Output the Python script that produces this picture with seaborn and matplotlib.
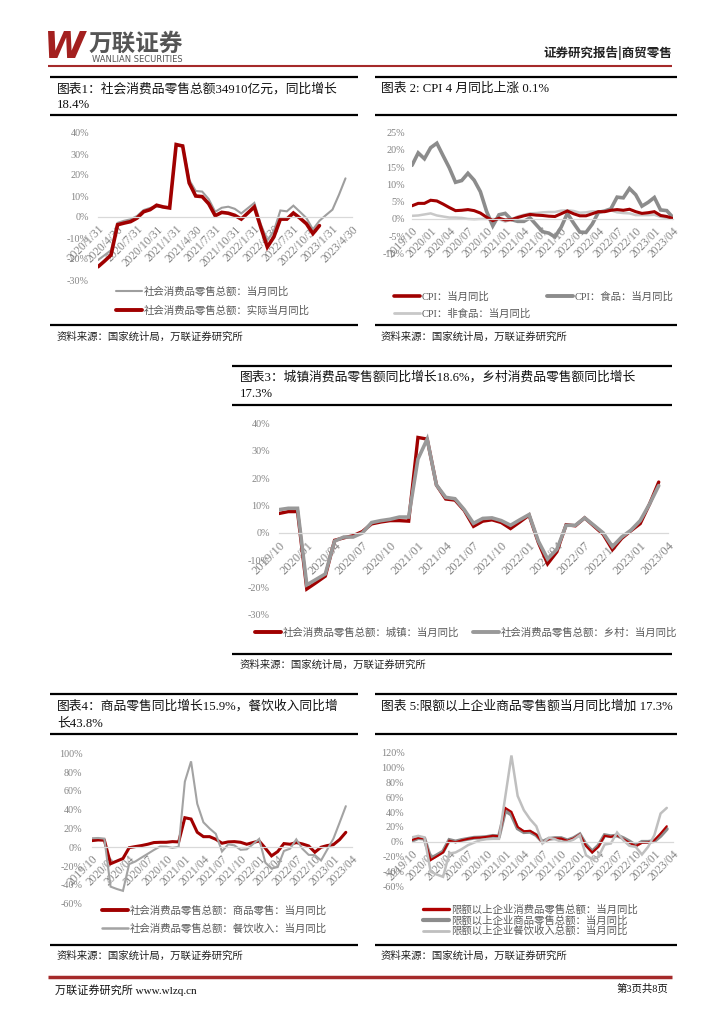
import numpy as np
import pandas as pd
import matplotlib
matplotlib.use("Agg")
import matplotlib.pyplot as plt
from matplotlib.lines import Line2D
import seaborn as sns

# ---------------- data ----------------
# Chart 1: total retail sales, monthly YoY (%), x index 0 = 2020/1/31
c1_labels = ["2020/1/31", "2020/4/30", "2020/7/31", "2020/10/31", "2021/1/31", "2021/4/30",
             "2021/7/31", "2021/10/31", "2022/1/31", "2022/4/30", "2022/7/31", "2022/10/31",
             "2023/1/31", "2023/4/30"]
c1_nominal = [-20.5, -18.2, -15.8, -2.8, -1.8, -1.1, 0.5, 3.3, 4.3, 5.0, 4.6, 4.6,
              33.8, 34.2, 17.7, 12.4, 12.1, 8.5, 2.5, 4.4, 4.9, 3.9, 1.7, 4.2,
              6.7, -3.5, -11.1, -6.7, 3.1, 2.7, 5.4, 2.5, -0.5, -5.9, -1.8, 0.9,
              3.5, 10.6, 18.4]
c1_real = [-23.7, -21.0, -18.1, -3.7, -2.9, -2.2, -0.5, 2.5, 3.5, 5.6, 4.8, 4.3,
           34.5, 33.8, 16.2, 10.0, 9.7, 6.3, 0.6, 2.2, 1.8, 0.8, -1.0, 1.9,
           4.8, -5.0, -14.3, -9.5, -1.0, -1.0, 1.9, -0.5, -3.2, -7.9, -4.1]

# Month labels for charts 2-5, x index 0 = 2019/10
m_labels = ["2019/10", "2020/01", "2020/04", "2020/07", "2020/10", "2021/01", "2021/04",
            "2021/07", "2021/10", "2022/01", "2022/04", "2022/07", "2022/10", "2023/01",
            "2023/04"]

# Chart 2: CPI YoY (%)
cpi_total = [3.8, 4.5, 4.5, 5.4, 5.2, 4.3, 3.3, 2.4, 2.5, 2.7, 2.4, 1.7, 0.5, -0.5, 0.2,
             -0.3, -0.2, 0.4, 0.9, 1.3, 1.1, 1.0, 0.8, 0.7, 1.5, 2.3, 1.5,
             0.9, 0.9, 1.5, 2.1, 2.1, 2.5, 2.7, 2.5, 2.8, 2.1, 1.6, 1.8,
             2.1, 1.0, 0.7, 0.1]
cpi_food = [15.5, 19.1, 17.4, 20.6, 21.9, 18.3, 14.8, 10.6, 11.1, 13.2, 11.2, 7.9, 2.2, -2.0, 1.2,
            1.6, -0.2, -0.7, -0.7, 0.3, -1.7, -3.7, -4.1, -5.2, -2.4, 1.6, -1.2,
            -3.8, -3.9, -1.5, 1.9, 2.3, 2.9, 6.3, 6.1, 8.8, 7.0, 3.7, 4.8,
            6.2, 2.6, 2.4, 0.4]
cpi_nonfood = [0.9, 1.0, 1.3, 1.6, 1.0, 0.7, 0.4, 0.4, 0.3, 0.0, -0.1, 0.0, 0.0, 0.0, -0.1,
               -0.8, -0.1, 0.7, 1.2, 1.6, 1.7, 1.9, 2.0, 2.0, 2.4, 2.5, 2.3,
               1.8, 1.9, 2.2, 2.2, 2.1, 2.5, 1.9, 1.7, 1.6, 1.1, 1.1, 1.1,
               1.2, 0.6, 0.3, 0.1]

# Chart 3: urban / rural retail YoY (%)
c3_urban = [7.1, 7.8, 7.8, -20.5, -18.2, -15.8, -2.7, -1.8, -1.0, 0.5, 3.3, 4.0, 4.5, 4.5, 4.3,
            34.9, 34.3, 17.5, 12.4, 12.0, 8.2, 2.4, 4.3, 4.8, 3.8, 1.6, 4.0,
            6.5, -3.5, -11.3, -6.9, 3.0, 2.6, 5.5, 2.5, -0.5, -6.1, -2.0, 0.8,
            3.4, 10.5, 18.6]
c3_rural = [8.5, 9.0, 9.0, -19.0, -17.0, -15.0, -3.0, -1.5, -1.5, 0.0, 3.8, 4.5, 5.0, 5.8, 5.8,
            27.0, 34.3, 17.5, 13.0, 12.5, 8.5, 3.5, 5.3, 5.5, 4.5, 2.8, 4.8,
            6.7, -3.0, -9.5, -6.0, 2.8, 2.8, 5.5, 2.8, 0.0, -5.0, -1.5, 1.0,
            4.5, 10.5, 17.3]

# Chart 4: commodity retail / catering YoY (%)
c4_goods = [7.1, 7.8, 7.5, -17.6, -14.8, -12.0, -0.5, 0.7, 1.8, 3.2, 5.0, 5.3, 5.3, 6.0, 5.7,
            31.5, 30.1, 16.0, 11.3, 11.3, 8.5, 4.3, 5.7, 6.0, 5.3, 3.2, 5.0,
            6.7, -1.0, -9.2, -4.6, 3.9, 3.2, 5.0, 3.5, 1.4, -5.3, 0.0, 1.8,
            2.8, 8.2, 15.9]
c4_catering = [9.6, 9.9, 9.2, -42.0, -44.5, -46.5, -18.0, -15.2, -11.0, -7.0, -2.9, 0.8, 0.6, -0.6, 0.5,
               70.0, 91.6, 46.4, 26.6, 20.0, 14.3, -4.5, 3.1, 2.0, -2.7, -2.2, 3.3,
               8.9, -16.4, -22.7, -21.1, -4.0, -1.5, 8.4, -1.7, -8.1, -8.4, -14.1, -2.5,
               9.2, 26.3, 43.8]

# Chart 5: above-quota enterprises YoY (%)
c5_total = [2.5, 5.4, 4.5, -24.6, -19.5, -14.3, 1.5, -0.5, 2.0, 4.0, 5.4, 5.8, 6.7, 8.1, 7.6,
            45.6, 40.3, 20.0, 14.3, 14.8, 9.8, -0.9, 3.6, 4.5, 4.5, 1.3, 4.5,
            9.8, -5.4, -14.3, -6.7, 8.1, 6.7, 9.0, 3.6, -1.3, -5.8, -1.3, -0.9,
            2.2, 11.2, 21.0]
c5_goods = [1.5, 5.0, 4.2, -22.5, -18.0, -13.0, 2.5, 0.5, 2.5, 4.0, 5.5, 5.8, 6.5, 8.0, 7.5,
            42.0, 36.5, 18.0, 13.0, 13.5, 9.0, 0.0, 4.0, 5.0, 5.0, 2.0, 5.0,
            10.0, -4.0, -13.0, -5.0, 9.0, 7.5, 8.5, 5.0, 0.5, -5.0, 0.0, 0.0,
            1.0, 8.0, 17.3]
c5_catering = [6.0, 8.0, 6.0, -40.0, -44.0, -47.0, -15.7, -14.3, -9.8, -4.5, -1.0, 2.2, 3.6, 4.0, 4.0,
               60.0, 116.0, 61.7, 42.5, 30.4, 21.0, -2.2, 5.4, 3.6, 0.0, 0.0, 3.0,
               9.0, -17.9, -23.3, -20.0, -3.6, -2.2, 12.5, 2.2, -5.4, -6.7, -17.0, -6.7,
               9.0, 38.0, 45.6]

SRC = "资料来源：国家统计局，万联证券研究所"

# ---------------- style ----------------
sns.set_theme(style="white")
FAM = ["Liberation Serif", "Noto Sans CJK SC", "DejaVu Sans"]
plt.rcParams["font.family"] = FAM
plt.rcParams["axes.unicode_minus"] = False

RED = "#A00000"
TICK_C = "#858585"
LEG_C = "#595959"

W, H = 724, 1024
fig = plt.figure(figsize=(W / 100, H / 100), dpi=100)
fig.patch.set_facecolor("white")


def rect(l, t, r, b):
    return [l / W, 1 - b / H, (r - l) / W, (b - t) / H]


def hline(x0, x1, y, color="black", lw=1.6):
    fig.add_artist(Line2D([x0 / W, x1 / W], [1 - y / H, 1 - y / H],
                          transform=fig.transFigure, color=color, lw=lw,
                          solid_capstyle="butt"))


def ftext(x, y, s, size, **kw):
    kw.setdefault("va", "center")
    fig.text(x / W, 1 - y / H, s, fontsize=size, **kw)


def chart(box, series, xlabels, nmonths, ylim, ystep, ypad, xsize=8.3):
    ax = fig.add_axes(rect(*box))
    ax.set_facecolor("none")
    for vals, color, lw, label in series:
        df = pd.DataFrame({"x": np.arange(len(vals)), "y": vals})
        sns.lineplot(data=df, x="x", y="y", ax=ax, color=color, linewidth=lw,
                     label=label, legend=False, solid_joinstyle="miter")
    ax.set_xlim(0, nmonths)
    ax.set_ylim(*ylim)
    ax.set_xlabel("")
    ax.set_ylabel("")
    for s in ["top", "right", "left"]:
        ax.spines[s].set_visible(False)
    ax.spines["bottom"].set_position(("data", 0))
    ax.spines["bottom"].set_color("#D9D9D9")
    ax.spines["bottom"].set_linewidth(0.9)
    ax.set_xticks(np.arange(0, nmonths + 1, 3))
    ax.set_xticklabels(xlabels)
    yt = np.arange(ylim[0], ylim[1] + 0.001, ystep)
    ax.set_yticks(yt)
    ax.set_yticklabels([f"{int(round(v))}%" for v in yt])
    ax.tick_params(axis="y", length=0, pad=ypad, labelcolor=TICK_C, labelsize=7.3)
    ax.tick_params(axis="x", length=3, width=0.8, color="#D9D9D9", pad=1.5,
                   labelcolor=TICK_C, labelsize=xsize, direction="out")
    for lbl in ax.get_xticklabels():
        lbl.set_rotation(45)
        lbl.set_ha("right")
        lbl.set_va("top")
        lbl.set_rotation_mode("anchor")
    ax.grid(False)
    return ax


def legend_row(items, x, y):
    handles = [Line2D([], [], color=c, lw=lw) for c, lw, _ in items]
    labels = [t for _, _, t in items]
    fig.legend(handles, labels, loc="center left",
               bbox_to_anchor=(x / W, 1 - y / H), bbox_transform=fig.transFigure,
               frameon=False, borderpad=0, borderaxespad=0, handlelength=2.5,
               handletextpad=0.15, fontsize=7.5, labelcolor=LEG_C)


# ---------------- header ----------------
ftext(65, 48, "W", 27, ha="center", color="#A3201F", weight="bold", style="italic",
      family="DejaVu Sans")
ftext(89, 44, "万联证券", 17, ha="left", color="#555555", weight="bold",
      family="Noto Sans CJK SC")
ftext(92, 59.5, "WANLIAN SECURITIES", 6, ha="left", color="#555555", family="DejaVu Sans")
ftext(672, 53, "证券研究报告|商贸零售", 9, ha="right", color="#222222", weight="bold",
      family="Noto Sans CJK SC")
hline(48, 672, 66, color="#A52A2A", lw=1.5)

# ---------------- panel frames & titles ----------------
TS = 9.2
# Panel 1
hline(50, 358, 77)
hline(50, 358, 115)
hline(50, 358, 325)
ftext(57, 89, "图表1：社会消费品零售总额34910亿元，同比增长", TS, color="#111111")
ftext(57, 105, "18.4%", TS, color="#111111")
ftext(57, 337, SRC, 7.5, color="#222222")
# Panel 2
hline(375, 677, 77)
hline(375, 677, 115)
hline(375, 677, 325)
ftext(381, 89, "图表 2: CPI 4 月同比上涨 0.1%", TS, color="#111111")
ftext(381, 337, SRC, 7.5, color="#222222")
# Panel 3
hline(232, 672, 366)
hline(232, 672, 405)
hline(232, 672, 654)
ftext(240, 377, "图表3：城镇消费品零售额同比增长18.6%，乡村消费品零售额同比增长", TS, color="#111111")
ftext(240, 394, "17.3%", TS, color="#111111")
ftext(240, 665, SRC, 7.5, color="#222222")
# Panel 4
hline(50, 358, 694)
hline(50, 358, 734)
hline(50, 358, 945)
ftext(57, 706, "图表4：商品零售同比增长15.9%，餐饮收入同比增", TS, color="#111111")
ftext(57, 723, "长43.8%", TS, color="#111111")
ftext(57, 956, SRC, 7.5, color="#222222")
# Panel 5
hline(375, 677, 694)
hline(375, 677, 734)
hline(375, 677, 945)
ftext(381, 706, "图表 5:限额以上企业商品零售额当月同比增加 17.3%", TS, color="#111111")
ftext(381, 956, SRC, 7.5, color="#222222")

# ---------------- charts ----------------
# Chart 1
g1 = "#9E9E9E"
chart((98, 133, 352, 280),
      [(c1_nominal, g1, 1.5, "社会消费品零售总额：当月同比"),
       (c1_real, RED, 2.6, "社会消费品零售总额：实际当月同比")],
      c1_labels, 39, (-30, 40), 10, 6.5, xsize=8.3)
legend_row([(g1, 1.5, "社会消费品零售总额：当月同比")], 116, 291.5)
legend_row([(RED, 2.8, "社会消费品零售总额：实际当月同比")], 116, 310)

# Chart 2
gf, gn = "#8C8C8C", "#C8C8C8"
chart((412, 132.5, 673, 253.5),
      [(cpi_nonfood, gn, 1.8, "CPI：非食品：当月同比"),
       (cpi_food, gf, 2.6, "CPI：食品：当月同比"),
       (cpi_total, RED, 2.2, "CPI：当月同比")],
      m_labels, 42, (-10, 25), 5, 5)
legend_row([(RED, 2.6, "CPI：当月同比")], 394, 297)
legend_row([(gf, 2.8, "CPI：食品：当月同比")], 547, 297)
legend_row([(gn, 2.0, "CPI：非食品：当月同比")], 394, 314)

# Chart 3
g3 = "#999999"
chart((279, 423.5, 668, 615),
      [(c3_urban, RED, 2.4, "社会消费品零售总额：城镇：当月同比"),
       (c3_rural, g3, 2.6, "社会消费品零售总额：乡村：当月同比")],
      m_labels, 42, (-30, 40), 10, 6.5, xsize=9)
legend_row([(RED, 2.8, "社会消费品零售总额：城镇：当月同比")], 255, 632)
legend_row([(g3, 2.8, "社会消费品零售总额：乡村：当月同比")], 473, 632)

# Chart 4
g4 = "#A3A3A3"
chart((92, 753.5, 352, 903.5),
      [(c4_goods, RED, 2.2, "社会消费品零售总额：商品零售：当月同比"),
       (c4_catering, g4, 1.5, "社会消费品零售总额：餐饮收入：当月同比")],
      m_labels, 42, (-60, 100), 20, 7)
legend_row([(RED, 2.8, "社会消费品零售总额：商品零售：当月同比")], 102, 910)
legend_row([(g4, 1.8, "社会消费品零售总额：餐饮收入：当月同比")], 102, 928)

# Chart 5
g5d, g5l = "#8C8C8C", "#BFBFBF"
chart((412, 752.5, 673, 886.5),
      [(c5_goods, g5d, 2.8, "限额以上企业商品零售总额：当月同比"),
       (c5_total, "#B00000", 1.5, "限额以上企业消费品零售总额：当月同比"),
       (c5_catering, g5l, 1.8, "限额以上企业餐饮收入总额：当月同比")],
      m_labels, 42, (-60, 120), 20, 5.5)
legend_row([("#B00000", 2.4, "限额以上企业消费品零售总额：当月同比")], 423, 909)
legend_row([(g5d, 3.0, "限额以上企业商品零售总额：当月同比")], 423, 920)
legend_row([(g5l, 2.0, "限额以上企业餐饮收入总额：当月同比")], 423, 931)

# ---------------- footer ----------------
hline(48, 672, 977, color="#A52A2A", lw=2.5)
ftext(55, 990, "万联证券研究所 www.wlzq.cn", 8, ha="left", color="#111111")
ftext(668, 989, "第3页共8页", 7.5, ha="right", color="#111111")

fig.savefig("out.png", dpi=100)
